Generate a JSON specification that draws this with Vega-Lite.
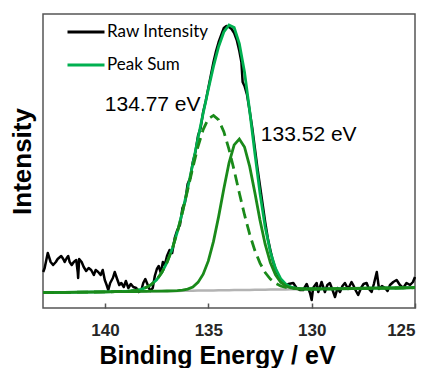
{
  "$schema": "https://vega.github.io/schema/vega-lite/v6.json",
  "width": 372,
  "height": 294,
  "autosize": {"type": "none"},
  "padding": {"left": 43, "top": 14, "right": 16, "bottom": 60},
  "background": "white",
  "config": {
    "view": {"stroke": "#555555", "strokeWidth": 1.5},
    "font": "Liberation Sans"
  },
  "datasets": {
    "raw": [
      {"x":142.99,"y":36},{"x":142.92,"y":40},{"x":142.77,"y":55},{"x":142.63,"y":46},{"x":142.51,"y":43},{"x":142.38,"y":46},{"x":142.29,"y":49},{"x":142.12,"y":52},{"x":142.02,"y":49},{"x":141.95,"y":46},{"x":141.85,"y":50},{"x":141.78,"y":52},{"x":141.71,"y":46},{"x":141.61,"y":43},{"x":141.51,"y":46},{"x":141.39,"y":48},{"x":141.32,"y":36},{"x":141.30,"y":30},{"x":141.25,"y":49},{"x":141.13,"y":46},{"x":141.03,"y":41},{"x":140.91,"y":37},{"x":140.79,"y":40},{"x":140.67,"y":38},{"x":140.54,"y":33},{"x":140.45,"y":38},{"x":140.33,"y":36},{"x":140.21,"y":33},{"x":140.11,"y":38},{"x":140.01,"y":28},{"x":139.92,"y":23},{"x":139.84,"y":18},{"x":139.75,"y":25},{"x":139.62,"y":30},{"x":139.53,"y":36},{"x":139.43,"y":30},{"x":139.31,"y":23},{"x":139.21,"y":25},{"x":139.09,"y":21},{"x":138.99,"y":27},{"x":138.87,"y":20},{"x":138.75,"y":24},{"x":138.63,"y":21},{"x":138.49,"y":20},{"x":138.37,"y":16},{"x":138.24,"y":18},{"x":138.15,"y":25},{"x":138.05,"y":29},{"x":137.93,"y":23},{"x":137.81,"y":17},{"x":137.69,"y":20},{"x":137.59,"y":32},{"x":137.49,"y":39},{"x":137.40,"y":42},{"x":137.30,"y":35},{"x":137.20,"y":46},{"x":137.11,"y":43},
      {"x":137.0,"y":52},{"x":136.875,"y":58},{"x":136.75,"y":55},{"x":136.625,"y":70},{"x":136.5,"y":78},{"x":136.375,"y":83},{"x":136.25,"y":100},{"x":136.125,"y":106},{"x":136.0,"y":124},{"x":135.875,"y":130},{"x":135.75,"y":146},{"x":135.625,"y":156},{"x":135.5,"y":172},{"x":135.375,"y":180},{"x":135.25,"y":196},{"x":135.125,"y":207},{"x":135.0,"y":220},{"x":134.875,"y":233},{"x":134.75,"y":246},{"x":134.625,"y":257},{"x":134.5,"y":266},{"x":134.375,"y":273},{"x":134.25,"y":280},{"x":134.125,"y":282},{"x":134.0,"y":281},{"x":133.875,"y":279},{"x":133.75,"y":275},{"x":133.625,"y":268},{"x":133.5,"y":257},{"x":133.4,"y":246},{"x":133.34,"y":226},{"x":133.25,"y":222},{"x":133.125,"y":213},{"x":133.0,"y":197},{"x":132.875,"y":180},{"x":132.75,"y":160},{"x":132.625,"y":140},{"x":132.5,"y":122},{"x":132.375,"y":104},{"x":132.25,"y":86},{"x":132.125,"y":70},{"x":132.0,"y":58},{"x":131.875,"y":47},{"x":131.75,"y":39},{"x":131.625,"y":33},{"x":131.5,"y":27},{"x":131.375,"y":25},{"x":131.25,"y":22},{"x":131.125,"y":24},
      {"x":130.89,"y":25},{"x":130.73,"y":20},{"x":130.57,"y":18},{"x":130.41,"y":18},{"x":130.24,"y":24},{"x":130.08,"y":15},{"x":130.0,"y":8},{"x":129.93,"y":20},{"x":129.76,"y":25},{"x":129.68,"y":16},{"x":129.52,"y":26},{"x":129.36,"y":16},{"x":129.24,"y":23},{"x":129.12,"y":25},{"x":128.99,"y":18},{"x":128.87,"y":11},{"x":128.75,"y":20},{"x":128.63,"y":16},{"x":128.51,"y":22},{"x":128.39,"y":25},{"x":128.24,"y":19},{"x":128.07,"y":26},{"x":127.99,"y":23},{"x":127.88,"y":18},{"x":127.75,"y":13},{"x":127.61,"y":20},{"x":127.49,"y":24},{"x":127.34,"y":25},{"x":127.23,"y":19},{"x":127.10,"y":16},{"x":126.99,"y":24},{"x":126.85,"y":36},{"x":126.74,"y":19},{"x":126.60,"y":22},{"x":126.45,"y":20},{"x":126.33,"y":17},{"x":126.21,"y":23},{"x":126.05,"y":26},{"x":125.89,"y":28},{"x":125.73,"y":23},{"x":125.57,"y":20},{"x":125.41,"y":25},{"x":125.24,"y":23},{"x":125.10,"y":26},{"x":125.0,"y":31}
    ],
    "fit": [
      {"x":143,"bg":15.3,"p1":15.3,"p2":15.3,"sum":15.3},
      {"x":142,"bg":15.6,"p1":15.6,"p2":15.6,"sum":15.6},
      {"x":141,"bg":15.9,"p1":15.9,"p2":15.9,"sum":15.9},
      {"x":140,"bg":16.1,"p1":16.1,"p2":16.1,"sum":16.1},
      {"x":139.5,"bg":16.3,"p1":16.3,"p2":16.3,"sum":16.3},
      {"x":139.0,"bg":16.4,"p1":16.6,"p2":16.4,"sum":16.7},
      {"x":138.75,"bg":16.5,"p1":17.0,"p2":16.5,"sum":17.0},
      {"x":138.5,"bg":16.5,"p1":17.6,"p2":16.5,"sum":17.6},
      {"x":138.25,"bg":16.6,"p1":18.7,"p2":16.6,"sum":18.7},
      {"x":138.0,"bg":16.7,"p1":20.6,"p2":16.7,"sum":20.6},
      {"x":137.75,"bg":16.8,"p1":23.6,"p2":16.8,"sum":23.6},
      {"x":137.5,"bg":16.8,"p1":28.3,"p2":16.8,"sum":28.3},
      {"x":137.25,"bg":16.9,"p1":35.4,"p2":16.9,"sum":35.4},
      {"x":137.0,"bg":17.0,"p1":45.5,"p2":17.0,"sum":45.5},
      {"x":136.75,"bg":17.0,"p1":58.8,"p2":17.1,"sum":58.9},
      {"x":136.5,"bg":17.1,"p1":75.8,"p2":17.3,"sum":76.0},
      {"x":136.25,"bg":17.2,"p1":95.8,"p2":17.8,"sum":96.4},
      {"x":136.0,"bg":17.3,"p1":118.0,"p2":18.9,"sum":119.6},
      {"x":135.75,"bg":17.3,"p1":140.5,"p2":21.0,"sum":144.2},
      {"x":135.5,"bg":17.4,"p1":161.5,"p2":25.6,"sum":169.7},
      {"x":135.25,"bg":17.5,"p1":178.4,"p2":33.8,"sum":194.7},
      {"x":135.0,"bg":17.5,"p1":189.2,"p2":47.1,"sum":218.8},
      {"x":134.75,"bg":17.6,"p1":192.6,"p2":66.6,"sum":241.6},
      {"x":134.5,"bg":17.7,"p1":188.1,"p2":91.6,"sum":261.5},
      {"x":134.25,"bg":17.7,"p1":176.3,"p2":119.3,"sum":276.0},
      {"x":134.0,"bg":17.8,"p1":158.7,"p2":145.0,"sum":283.0},
      {"x":133.75,"bg":17.9,"p1":137.6,"p2":163.1,"sum":280.5},
      {"x":133.5,"bg":17.9,"p1":115.0,"p2":168.9,"sum":264.5},
      {"x":133.25,"bg":18.0,"p1":93.3,"p2":161.0,"sum":236.0},
      {"x":133.0,"bg":18.1,"p1":73.8,"p2":141.6,"sum":197.3},
      {"x":132.75,"bg":18.2,"p1":57.6,"p2":115.4,"sum":154.8},
      {"x":132.5,"bg":18.2,"p1":44.9,"p2":87.9,"sum":114.6},
      {"x":132.25,"bg":18.3,"p1":35.5,"p2":63.8,"sum":81.0},
      {"x":132.0,"bg":18.4,"p1":29.0,"p2":45.5,"sum":56.1},
      {"x":131.75,"bg":18.5,"p1":24.8,"p2":33.2,"sum":39.5},
      {"x":131.5,"bg":18.5,"p1":22.0,"p2":25.8,"sum":29.3},
      {"x":131.25,"bg":18.6,"p1":20.5,"p2":21.9,"sum":23.8},
      {"x":131.0,"bg":18.7,"p1":19.7,"p2":20.0,"sum":21.0},
      {"x":130.75,"bg":18.8,"p1":19.3,"p2":19.3,"sum":19.8},
      {"x":130.5,"bg":18.8,"p1":19.0,"p2":19.0,"sum":19.2},
      {"x":130.0,"bg":19.0,"p1":19.0,"p2":19.0,"sum":19.0},
      {"x":129.5,"bg":19.1,"p1":19.1,"p2":19.1,"sum":19.1},
      {"x":129.0,"bg":19.2,"p1":19.2,"p2":19.2,"sum":19.2},
      {"x":128.0,"bg":19.5,"p1":19.5,"p2":19.5,"sum":19.5},
      {"x":127.0,"bg":19.8,"p1":19.8,"p2":19.8,"sum":19.8},
      {"x":126.0,"bg":20.0,"p1":20.0,"p2":20.0,"sum":20.0},
      {"x":125.0,"bg":20.3,"p1":20.3,"p2":20.3,"sum":20.3}
    ],
    "notes": [
      {"label":"134.77 eV","x":140.01,"y":197},
      {"label":"133.52 eV","x":132.46,"y":167}
    ]
  },
  "encoding": {
    "x": {
      "field": "x", "type": "quantitative",
      "scale": {"domain": [125, 143], "reverse": true, "nice": false, "zero": false},
      "axis": {
        "title": "Binding Energy / eV",
        "values": [140, 135, 130, 125],
        "grid": false, "domain": false,
        "tickSize": -5, "tickColor": "#555555", "tickWidth": 1.5,
        "labelFont": "Liberation Sans", "labelFontWeight": "bold", "labelFontSize": 17, "labelColor": "#262626",
        "labelPadding": 19,
        "titleFont": "Liberation Sans", "titleFontWeight": "bold", "titleFontSize": 25, "titleColor": "#000000",
        "titlePadding": 5, "titleX": 174
      }
    }
  },
  "layer": [
    {
      "data": {"name": "fit"},
      "mark": {"type": "line", "color": "#b3b3b3", "strokeWidth": 2.5},
      "encoding": {
        "y": {"field": "bg", "type": "quantitative",
          "scale": {"domain": [0, 294], "nice": false, "zero": false},
          "axis": {"title": "Intensity", "labels": false, "ticks": false, "domain": false, "grid": false,
            "titleFont": "Liberation Sans", "titleFontWeight": "bold", "titleFontSize": 26, "titleColor": "#000000", "titlePadding": 8}}
      }
    },
    {
      "data": {"name": "raw"},
      "mark": {"type": "line", "strokeWidth": 2.5, "strokeJoin": "round"},
      "encoding": {
        "y": {"field": "y", "type": "quantitative"},
        "color": {
          "datum": "Raw Intensity",
          "scale": {"domain": ["Raw Intensity", "Peak Sum"], "range": ["#000000", "#00b050"]},
          "legend": {
            "orient": "none", "legendX": 23, "legendY": -2, "title": null, "padding": 0,
            "symbolType": "stroke", "symbolSize": 1369, "symbolStrokeWidth": 3,
            "labelFont": "Lato", "labelFontSize": 17, "labelColor": "#000000", "labelOffset": 1, "rowPadding": 5
          }
        }
      }
    },
    {
      "data": {"name": "fit"},
      "mark": {"type": "line", "strokeWidth": 2.8},
      "encoding": {
        "y": {"field": "sum", "type": "quantitative"},
        "color": {"datum": "Peak Sum"}
      }
    },
    {
      "data": {"name": "fit"},
      "mark": {"type": "line", "color": "#1a8a1a", "strokeWidth": 2.8, "strokeDash": [11, 6]},
      "encoding": {"y": {"field": "p1", "type": "quantitative"}}
    },
    {
      "data": {"name": "fit"},
      "mark": {"type": "line", "color": "#1a8a1a", "strokeWidth": 2.8},
      "encoding": {"y": {"field": "p2", "type": "quantitative"}}
    },
    {
      "data": {"name": "notes"},
      "mark": {"type": "text", "align": "left", "baseline": "alphabetic", "font": "Liberation Sans", "fontSize": 21, "color": "#000000"},
      "encoding": {
        "y": {"field": "y", "type": "quantitative"},
        "text": {"field": "label"}
      }
    }
  ]
}
